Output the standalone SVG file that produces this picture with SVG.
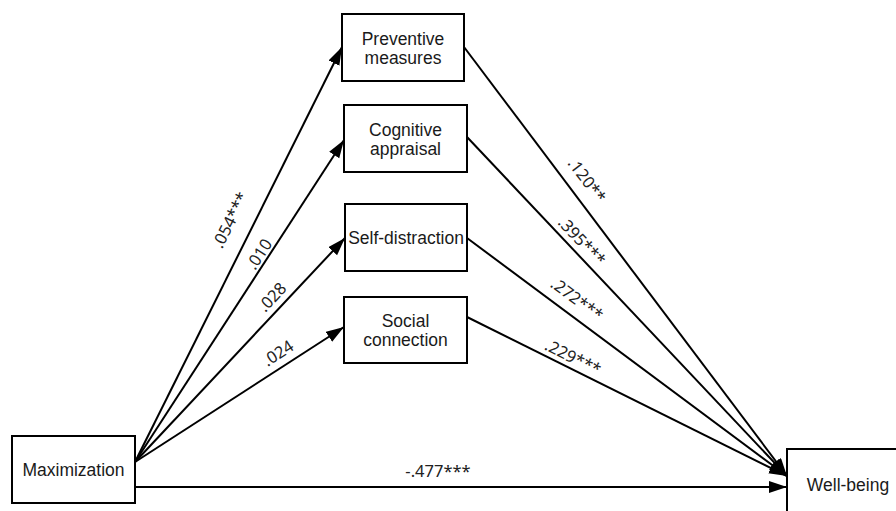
<svg xmlns="http://www.w3.org/2000/svg" width="896" height="511" viewBox="0 0 896 511">
<style>
.box{fill:#fff;stroke:#000;stroke-width:2}
.nt{font-family:"Liberation Sans",Arial,sans-serif;font-size:17.5px;fill:#1a1a1a;text-anchor:middle}
.ln{stroke:#000;stroke-width:2;fill:none;marker-end:url(#ah)}
.lb{font-family:"Noto Sans","Open Sans",sans-serif;font-size:16.5px;fill:#222;text-anchor:middle}
</style>
<defs>
<marker id="ah" markerUnits="userSpaceOnUse" markerWidth="20" markerHeight="14" refX="18" refY="6" orient="auto">
<path d="M0,0 L18,6 L0,12 Z" fill="#000"/>
</marker>
</defs>
<rect width="896" height="511" fill="#fff"/>
<g id="connectors">
<line class="ln" x1="135" y1="462" x2="342" y2="47"/>
<line class="ln" x1="135" y1="462" x2="344" y2="140"/>
<line class="ln" x1="135" y1="462" x2="345" y2="238"/>
<line class="ln" x1="135" y1="462" x2="344" y2="327"/>
<line class="ln" x1="135" y1="487" x2="787" y2="487"/>
<line class="ln" x1="464" y1="47" x2="787" y2="476"/>
<line class="ln" x1="467" y1="137" x2="787" y2="476"/>
<line class="ln" x1="467" y1="238" x2="787" y2="476"/>
<line class="ln" x1="467" y1="317" x2="787" y2="476"/>
</g>
<g id="labels">
<text class="lb" transform="translate(230,220) rotate(-63.5)" y="6">.054***</text>
<text class="lb" transform="translate(259,254) rotate(-57)" y="6">.010</text>
<text class="lb" transform="translate(272,297) rotate(-46.8)" y="6">.028</text>
<text class="lb" transform="translate(278,353) rotate(-32.9)" y="6">.024</text>
<text class="lb" transform="translate(587,180) rotate(53)" y="6">.120**</text>
<text class="lb" transform="translate(582,241) rotate(46.6)" y="6">.395***</text>
<text class="lb" transform="translate(577,299) rotate(36.6)" y="6">.272***</text>
<text class="lb" transform="translate(573,357) rotate(26.4)" y="6">.229***</text>
<text class="lb" x="438" y="477">-.477***</text>
</g>
<g id="maximization">
<rect class="box" x="12" y="436" width="123" height="67"/>
<text class="nt" x="73.5" y="476">Maximization</text>
</g>
<g id="preventive">
<rect class="box" x="342" y="14" width="122" height="67"/>
<text class="nt" x="403" y="44.5">Preventive</text>
<text class="nt" x="403" y="63.5">measures</text>
</g>
<g id="cognitive">
<rect class="box" x="344" y="105" width="123" height="67"/>
<text class="nt" x="405.5" y="135.5">Cognitive</text>
<text class="nt" x="405.5" y="154.5">appraisal</text>
</g>
<g id="selfdistraction">
<rect class="box" x="345" y="204" width="122" height="67"/>
<text class="nt" x="406" y="243.5">Self-distraction</text>
</g>
<g id="social">
<rect class="box" x="344" y="297" width="123" height="66"/>
<text class="nt" x="405.5" y="327">Social</text>
<text class="nt" x="405.5" y="346">connection</text>
</g>
<g id="wellbeing">
<rect class="box" x="787" y="449" width="122" height="70"/>
<text class="nt" x="848" y="491">Well-being</text>
</g>
</svg>
